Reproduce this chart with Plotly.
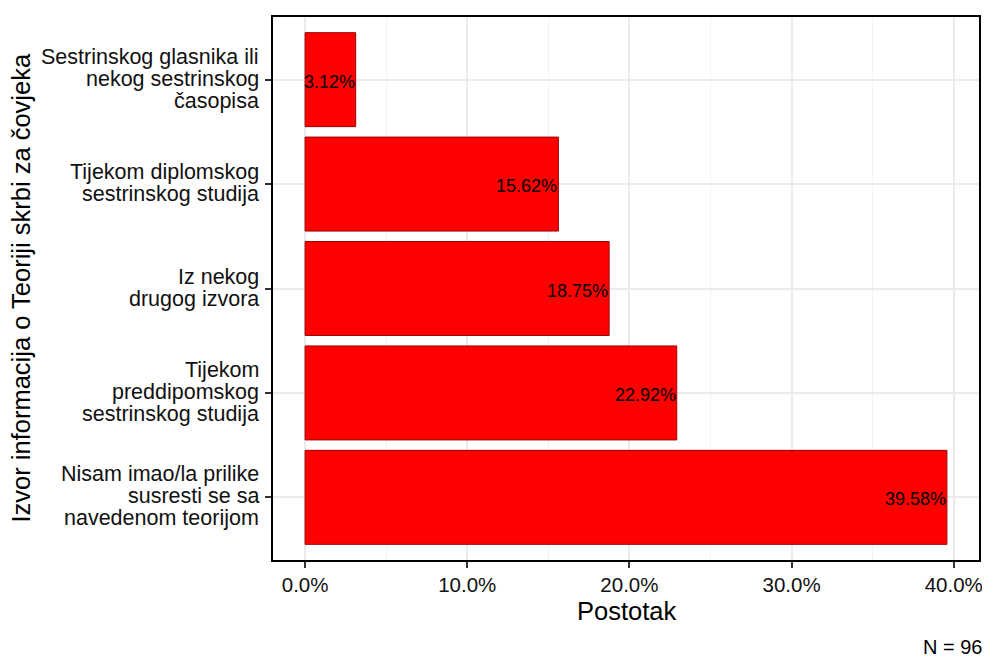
import plotly.graph_objects as go

# Data (bottom -> top)
categories = [
    ["Nisam imao/la prilike", "susresti se sa", "navedenom teorijom"],
    ["Tijekom", "preddipomskog", "sestrinskog studija"],
    ["Iz nekog", "drugog izvora"],
    ["Tijekom diplomskog", "sestrinskog studija"],
    ["Sestrinskog glasnika ili", "nekog sestrinskog", "časopisa"],
]
values = [39.58, 22.92, 18.75, 15.62, 3.12]
value_labels = ["39.58%", "22.92%", "18.75%", "15.62%", "3.12%"]
x_ticks = [0, 10, 20, 30, 40]
x_tick_labels = ["0.0%", "10.0%", "20.0%", "30.0%", "40.0%"]
x_minor = [5, 15, 25, 35]
x_title = "Postotak"
y_title = "Izvor informacija o Teoriji skrbi za čovjeka"
caption = "N = 96"

cat_keys = [" ".join(c) for c in categories]

FONT = "Liberation Sans, Arial, sans-serif"
TXT = "#111111"

fig = go.Figure()
fig.add_trace(go.Bar(
    x=values, y=cat_keys, orientation="h", width=0.9,
    marker=dict(color="#FF0000", line=dict(color="#A00000", width=1)),
    hoverinfo="skip", showlegend=False,
))

ann = []
# value labels
for k, v, lab in zip(cat_keys, values, value_labels):
    ann.append(dict(x=v, y=k, xref="x", yref="y", text=lab, showarrow=False,
                    xanchor="right", yanchor="middle", yshift=-2, xshift=1,
                    font=dict(size=18, color="black", family=FONT)))
# y tick labels (multi-line, tight line spacing)
LH = 22
for k, lines in zip(cat_keys, categories):
    n = len(lines)
    for j, line in enumerate(lines):
        ann.append(dict(x=0, y=k, xref="paper", yref="y", text=line, showarrow=False,
                        xanchor="right", yanchor="middle", xshift=-12,
                        yshift=((n - 1) / 2 - j) * LH + 1,
                        font=dict(size=21.5, color=TXT, family=FONT)))
# axis titles & caption
ann.append(dict(x=0.5, y=0, xref="paper", yref="paper", text=x_title, showarrow=False,
                xanchor="center", yanchor="middle", yshift=-51,
                font=dict(size=25.5, color="black", family=FONT)))
ann.append(dict(x=0, y=0.5, xref="paper", yref="paper", text=y_title, showarrow=False,
                xanchor="center", yanchor="middle", xshift=-253, textangle=-90,
                font=dict(size=25.5, color="black", family=FONT)))
ann.append(dict(x=1, y=0, xref="paper", yref="paper", text=caption, showarrow=False,
                xanchor="right", yanchor="middle", yshift=-87, xshift=5,
                font=dict(size=20, color="black", family=FONT)))

# the page body adds an 8px offset; size the figure so it fits the 990x657 window
fig.update_layout(
    width=982, height=649,
    margin=dict(l=265, r=7, t=7, b=97),
    paper_bgcolor="white", plot_bgcolor="white",
    annotations=ann, bargap=0.1,
    font=dict(family=FONT),
)
fig.update_xaxes(
    range=[-1.979, 41.559], tickvals=x_ticks, ticktext=x_tick_labels,
    tickfont=dict(size=20.5, color=TXT, family=FONT),
    ticks="outside", ticklen=6, tickwidth=1.5, tickcolor="#333333",
    showgrid=True, gridcolor="#EBEBEB", gridwidth=1.6,
    minor=dict(tickvals=x_minor, showgrid=True, gridcolor="#F2F2F2", gridwidth=1, ticks=""),
    showline=True, linecolor="black", linewidth=1.6, mirror=True, zeroline=False,
)
fig.update_yaxes(
    type="category", categoryorder="array", categoryarray=cat_keys,
    range=[-0.6, 4.6], showticklabels=False,
    ticks="outside", ticklen=6, tickwidth=1.5, tickcolor="#333333",
    showgrid=True, gridcolor="#EBEBEB", gridwidth=1.6,
    showline=True, linecolor="black", linewidth=1.6, mirror=True, zeroline=False,
)

fig.write_html("out.html")
